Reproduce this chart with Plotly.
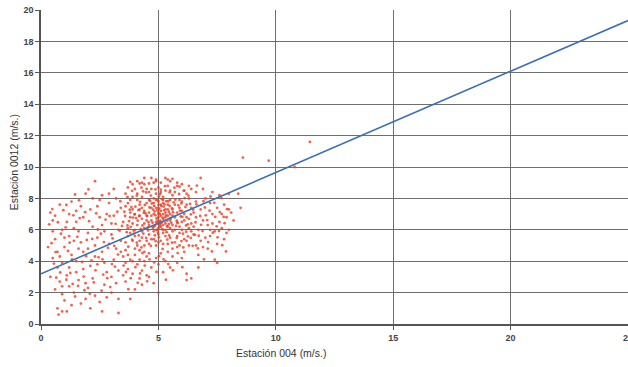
import plotly.graph_objects as go

# Paired wind speeds (m/s) at station 004 (x) and station 0012 (y)
wind_004 = [
    0.4, 0.5, 0.6, 0.3, 0.5, 0.7, 0.4, 0.8, 0.6, 0.9, 0.7, 0.9, 1.1, 0.75, 1.0, 1.2, 1.1, 0.9, 1.3, 1.0,
    1.2, 0.9, 1.1, 0.8, 1.3, 1.5, 1.4, 1.6, 1.7, 1.5, 1.8, 1.6, 1.4, 1.7, 1.9, 2.0, 2.2, 2.1, 2.3, 2.0,
    2.4, 2.2, 2.5, 2.1, 2.4, 2.6, 2.3, 1.9, 2.7, 2.8, 2.6, 2.9, 2.7, 3.0, 2.8, 2.9, 3.1, 2.5, 2.3, 2.6,
    3.3, 3.0, 3.2, 3.3, 3.1, 3.2, 3.4, 3.3, 3.1, 3.4, 3.2, 0.5, 0.7, 1.4, 1.8, 1.2, 0.6, 2.0, 1.8, 2.4,
    1.5, 0.9, 1.3, 2.1, 2.8, 1.7, 2.2, 2.9, 1.0, 1.6, 2.6, 2.3, 2.7, 3.0, 1.9, 1.2, 0.8, 2.5, 3.0, 1.5,
    3.6, 3.7, 3.8, 3.6, 3.9, 3.7, 4.0, 4.1, 4.0, 4.2, 4.1, 4.3, 4.4, 4.3, 4.5, 4.4, 4.6, 4.5, 4.7, 4.8,
    4.7, 4.9, 4.8, 4.9, 5.0, 5.1, 5.0, 5.0, 5.1, 5.2, 5.3, 5.2, 5.3, 5.2, 5.4, 5.5, 5.6, 5.5, 5.7, 5.6,
    5.8, 5.9, 5.8, 6.0, 5.9, 6.1, 6.2, 6.3, 6.2, 6.4, 6.3, 6.5, 6.4, 3.5, 3.8, 3.9, 4.0, 4.2, 4.2, 4.4,
    4.5, 4.6, 4.6, 4.7, 4.8, 4.8, 4.9, 4.9, 5.0, 5.0, 5.0, 5.1, 5.1, 5.1, 5.2, 5.2, 5.3, 5.3, 5.4, 5.4,
    5.5, 5.5, 5.6, 5.6, 5.7, 5.7, 5.8, 5.9, 6.0, 6.0, 6.1, 6.1, 6.2, 6.3, 6.4, 6.5, 3.6, 3.7, 3.8, 4.0,
    4.1, 4.3, 4.3, 4.4, 4.6, 4.7, 4.8, 4.9, 5.0, 5.1, 5.3, 5.4, 5.5, 5.6, 5.7, 5.8, 5.9, 6.0, 6.1, 6.2,
    4.5, 4.6, 4.7, 4.8, 4.9, 4.9, 5.0, 5.0, 5.0, 5.1, 5.1, 5.2, 5.2, 5.2, 5.3, 5.3, 5.4, 5.4, 5.5, 5.6,
    4.4, 4.3, 4.2, 4.1, 3.9, 3.8, 3.7, 3.6, 4.0, 4.2, 4.4, 3.9, 5.7, 5.8, 5.9, 6.0, 6.1, 6.3, 6.4, 6.5,
    6.6, 6.6, 5.0, 5.2, 4.6, 4.7, 5.5, 5.3, 4.1, 3.9, 4.8, 5.8, 4.5, 4.3,
    6.7, 6.8, 6.7, 6.9, 6.8, 7.0, 6.9, 7.1, 7.2, 7.1, 7.3, 7.2, 7.4, 7.5, 7.4, 7.6, 7.5, 7.6, 7.8, 7.7,
    7.9, 7.8, 8.0, 8.1, 7.0, 6.9, 7.3, 7.7, 7.9, 6.6, 7.3, 6.8, 7.5, 6.7, 8.0, 8.4, 8.5, 8.0, 7.2, 6.6,
    3.5, 3.6, 3.7, 3.8, 3.9, 4.0, 4.1, 4.2, 4.3, 4.4, 4.5, 4.6, 4.7, 4.8, 4.9, 5.0, 5.1, 5.2, 5.3, 5.4,
    5.5, 5.6, 5.8, 6.0, 6.2, 6.4, 6.2, 3.6, 3.8, 4.0, 3.4, 3.7, 3.9, 4.2, 4.5, 3.5, 4.3, 3.3, 5.0, 4.6,
    8.6, 9.7, 10.8, 11.45,
    3.45, 3.55, 3.65, 3.75, 3.85, 3.95, 4.05, 4.15, 4.25, 4.35,
    4.45, 4.55, 4.65, 4.75, 4.85, 4.95, 5.05, 5.15, 5.25, 5.35,
    5.45, 5.55, 5.65, 5.75, 5.85, 5.95, 6.05, 6.15, 6.25, 6.35,
    4.92, 5.04, 4.98, 5.08, 4.88, 5.12, 4.96, 5.02, 5.06, 4.94,
    4.62, 4.72, 4.52, 4.42, 4.32, 4.22, 4.12, 4.02, 3.92, 3.82,
    5.22, 5.32, 5.42, 5.52, 5.62, 5.72, 5.82, 5.92, 6.02, 6.12,
    3.72, 3.88, 4.08, 4.28, 4.48, 4.68, 4.88, 5.18, 5.38, 5.58,
    5.78, 5.98, 6.18, 6.38, 6.58, 6.48, 6.28, 6.08, 5.88, 5.68,
    5.48, 5.28, 5.08, 4.88, 4.68, 4.48, 4.28, 4.08, 3.88, 3.68,
    3.58, 3.68, 3.78, 3.98, 4.18, 4.38, 4.58, 4.78, 4.98, 5.18,
    5.38, 5.58, 5.78, 5.98, 6.18, 6.38, 6.56, 6.46, 6.26, 6.06,
    4.76, 4.84, 5.16, 5.24, 5.36, 5.46, 4.56, 4.36, 4.16, 3.96,
    4.9, 5.4, 4.2, 3.8, 5.9, 6.3, 4.6, 5.1, 5.6, 4.4,
    5.02, 4.98, 5.06, 5.14, 4.86, 4.82, 5.26, 5.34, 5.44, 5.48,
    0.35, 0.45, 0.55, 0.65, 0.85, 0.95, 1.05, 1.15, 1.25, 1.35,
    1.45, 1.55, 1.65, 1.75, 1.85, 1.95, 2.05, 2.15, 2.25, 2.35,
    2.45, 2.55, 2.65, 2.75, 2.85, 2.95, 3.05, 3.15, 3.25, 3.35,
    0.48, 0.72, 1.08, 1.38, 1.62, 1.88, 2.18, 2.42, 2.68, 2.92,
    3.18, 3.28, 3.02, 2.82, 2.58, 2.32, 2.08, 1.82, 1.58, 1.32,
    1.08, 0.82, 0.62, 1.22, 1.92, 2.62, 3.12, 3.38, 2.02, 1.45,
    6.62, 6.72, 6.82, 6.92, 7.02, 7.12, 7.22, 7.32, 7.42, 7.52,
    7.62, 7.72, 7.82, 7.92, 6.68, 6.78, 6.88, 6.98, 7.08, 7.18,
    7.28, 7.38, 7.48, 7.58, 7.68, 7.78, 6.64, 6.94, 7.88, 8.2,
    3.62, 3.82, 4.02, 4.22, 4.42, 4.62, 4.82, 5.02, 5.22, 5.42,
    5.62, 5.82, 6.02, 4.12, 4.52, 3.72, 5.32, 4.92, 3.52, 4.32,
]

wind_0012 = [
    7.1, 6.6, 5.4, 4.9, 4.2, 3.6, 3.0, 2.7, 2.2, 1.9, 1.0, 0.8, 0.8, 0.6, 1.5, 2.4, 3.1, 3.9, 4.4, 4.9,
    5.6, 6.0, 6.5, 7.6, 7.8, 7.2, 6.1, 5.9, 5.2, 4.0, 3.5, 2.8, 2.0, 1.3, 1.6, 2.3, 2.9, 3.7, 4.3, 4.8,
    5.5, 6.2, 6.8, 7.3, 7.5, 8.2, 9.1, 8.3, 2.5, 3.3, 4.6, 5.1, 5.9, 6.4, 7.0, 7.7, 8.6, 1.4, 1.8, 0.8,
    0.7, 2.0, 2.6, 3.4, 4.1, 4.8, 5.3, 6.0, 6.9, 7.4, 8.0, 5.9, 4.6, 5.3, 6.8, 7.0, 6.9, 5.8, 4.6, 3.8,
    3.3, 2.4, 1.2, 1.0, 1.7, 7.5, 8.0, 8.3, 5.5, 4.8, 6.3, 5.0, 3.9, 3.0, 2.6, 3.6, 4.3, 7.9, 5.7, 6.5,
    5.2, 6.1, 6.8, 7.5, 8.1, 8.7, 5.6, 6.3, 7.0, 7.6, 8.3, 9.0, 5.0, 5.9, 6.6, 7.2, 7.9, 8.6, 5.4, 6.2,
    6.9, 7.4, 8.0, 9.2, 5.7, 6.4, 7.1, 7.8, 8.4, 5.1, 6.0, 6.7, 7.3, 7.9, 8.8, 5.5, 6.3, 7.0, 7.6, 8.2,
    4.9, 5.8, 6.5, 7.2, 7.9, 8.5, 5.3, 6.1, 6.8, 7.4, 8.0, 5.7, 6.4, 6.5, 5.8, 7.3, 6.0, 6.9, 5.3, 6.1,
    7.7, 6.3, 5.1, 7.4, 7.0, 5.9, 6.5, 8.3, 6.1, 6.8, 7.4, 5.3, 7.6, 6.9, 6.3, 8.1, 5.6, 6.8, 7.6, 6.2,
    7.9, 6.6, 5.9, 7.3, 6.8, 8.4, 7.1, 6.2, 6.0, 7.8, 6.6, 5.4, 7.6, 5.0, 8.6, 7.1, 4.7, 5.6, 7.9, 8.6,
    5.0, 7.4, 8.1, 8.9, 8.4, 9.3, 5.4, 5.0, 8.7, 9.0, 8.5, 5.1, 9.1, 4.8, 5.2, 8.8, 5.0, 8.9, 4.6, 8.3,
    6.9, 7.1, 6.6, 7.7, 6.0, 7.9, 6.5, 7.0, 7.6, 6.2, 7.2, 6.0, 7.0, 7.7, 6.4, 7.1, 6.9, 7.3, 6.1, 6.9,
    6.4, 6.7, 7.3, 7.9, 6.4, 7.1, 7.7, 8.3, 4.8, 4.7, 4.6, 5.3, 6.0, 5.6, 7.4, 6.5, 7.0, 6.7, 5.9, 6.2,
    7.8, 5.0, 5.2, 5.8, 5.7, 8.6, 8.5, 9.3, 9.1, 8.9, 9.0, 9.0, 5.3, 5.5,
    4.4, 5.3, 6.0, 6.6, 7.3, 8.0, 8.6, 4.8, 5.6, 6.3, 7.0, 7.7, 4.1, 5.1, 5.9, 6.5, 7.4, 8.2, 5.4, 6.1,
    6.8, 7.6, 6.0, 7.1, 5.5, 4.9, 6.4, 7.0, 5.8, 8.4, 8.4, 9.3, 3.9, 3.6, 8.3, 8.3, 7.4, 7.3, 6.0, 6.8,
    4.3, 3.9, 3.5, 4.1, 3.2, 4.4, 3.8, 2.9, 3.4, 4.0, 3.1, 4.5, 3.6, 2.6, 4.2, 3.8, 4.5, 3.3, 4.0, 4.6,
    3.6, 4.3, 3.9, 4.2, 3.2, 2.9, 2.8, 2.7, 1.6, 2.2, 4.6, 4.4, 4.0, 4.1, 4.3, 3.1, 2.5, 1.6, 2.0, 3.0,
    10.6, 10.4, 10.0, 11.6,
    6.25, 7.15, 5.85, 6.55, 7.45, 5.95, 6.75, 7.25, 6.05, 8.45,
    7.05, 6.15, 7.85, 6.45, 5.65, 7.25, 6.35, 7.95, 6.55, 5.85,
    7.15, 6.45, 7.75, 6.25, 7.55, 6.85, 5.75, 7.45, 6.35, 7.65,
    6.72, 7.32, 7.88, 6.58, 6.92, 7.52, 5.98, 8.12, 7.02, 6.38,
    7.42, 7.68, 6.88, 7.58, 6.28, 7.78, 6.58, 7.48, 6.78, 6.18,
    7.48, 6.92, 7.82, 6.72, 7.12, 7.92, 6.42, 7.22, 6.82, 8.02,
    4.92, 5.38, 5.18, 4.88, 5.48, 4.98, 5.28, 4.78, 5.38, 5.18,
    5.48, 5.28, 5.88, 5.48, 6.48, 7.28, 8.18, 8.48, 8.28, 8.68,
    8.38, 8.78, 8.28, 8.58, 8.18, 8.38, 8.68, 8.18, 8.48, 8.08,
    6.88, 6.28, 7.28, 6.98, 6.88, 7.08, 6.48, 7.28, 6.58, 6.78,
    6.58, 7.38, 6.58, 7.68, 6.28, 6.98, 5.68, 4.98, 5.58, 4.88,
    6.12, 7.16, 6.04, 7.24, 6.24, 5.64, 5.96, 5.76, 5.64, 5.76,
    9.1, 9.2, 8.95, 9.05, 8.75, 8.8, 8.95, 8.55, 9.25, 9.3,
    5.52, 5.82, 6.22, 6.46, 6.26, 7.52, 7.62, 7.82, 6.36, 7.52,
    6.35, 5.15, 3.85, 2.95, 5.75, 7.25, 6.15, 4.65, 3.25, 2.55,
    1.75, 5.55, 6.75, 3.95, 2.15, 5.35, 6.55, 4.05, 2.65, 7.05,
    4.25, 5.75, 3.15, 6.65, 4.85, 2.35, 5.45, 3.65, 7.15, 5.95,
    7.32, 6.48, 7.58, 6.92, 7.88, 7.12, 5.42, 6.02, 5.22, 6.88,
    6.38, 4.42, 3.82, 2.92, 2.12, 3.42, 1.92, 3.02, 2.42, 4.12,
    2.82, 3.28, 4.58, 5.18, 4.32, 4.12, 4.98, 7.82, 8.58, 8.25,
    7.62, 5.62, 6.32, 7.82, 6.92, 5.22, 8.12, 5.82, 6.82, 5.52,
    7.12, 5.02, 6.42, 7.32, 4.82, 6.88, 5.92, 7.42, 6.62, 7.22,
    4.62, 7.72, 6.22, 5.92, 8.02, 6.82, 8.82, 4.12, 4.62, 6.6,
    3.32, 2.92, 3.62, 3.22, 3.72, 4.12, 3.92, 4.32, 4.12, 3.82,
    3.42, 4.52, 3.62, 2.62, 2.72, 2.22, 2.82, 3.32, 3.72, 4.52,
]

# Least-squares trend line: intercept and slope
trend_intercept = 3.2
trend_slope = 0.645
trend_x = [0, 25]
trend_y = [trend_intercept + trend_slope * v for v in trend_x]

x_ticks = [0, 5, 10, 15, 20, 25]
y_ticks = [0, 2, 4, 6, 8, 10, 12, 14, 16, 18, 20]

fig = go.Figure()
fig.add_trace(go.Scatter(
    x=wind_004, y=wind_0012, mode="markers",
    marker=dict(size=2.8, color="rgba(232,62,36,0.8)", line=dict(width=0)),
    hoverinfo="skip", showlegend=False,
))
fig.add_trace(go.Scatter(
    x=trend_x, y=trend_y, mode="lines",
    line=dict(color="#3d6fb4", width=1.6),
    hoverinfo="skip", showlegend=False,
))

axis_font = dict(family="Liberation Sans, Arial, sans-serif", size=9, color="#444444", weight="bold")
fig.update_xaxes(
    range=[0, 25], tickvals=x_ticks, ticktext=[str(v) for v in x_ticks],
    showgrid=True, gridcolor="#6e6e6e", gridwidth=1.2,
    showline=True, linecolor="#555555", linewidth=1.5,
    ticks="outside", ticklen=4, tickcolor="#555555",
    tickfont=axis_font, zeroline=False, automargin=False,
    ticklabeloverflow="allow",
)
fig.update_yaxes(
    range=[0, 20], tickvals=y_ticks,
    showgrid=True, gridcolor="#6e6e6e", gridwidth=1.2,
    showline=True, linecolor="#555555", linewidth=1.5,
    ticks="outside", ticklen=4, tickcolor="#555555",
    tickfont=axis_font, zeroline=False, automargin=False,
    ticklabeloverflow="allow",
)

title_font = dict(family="Liberation Sans, Arial, sans-serif", size=10.5, color="#333333")
fig.update_layout(
    width=628, height=367,
    margin=dict(l=41, r=0, t=10, b=43),
    paper_bgcolor="white", plot_bgcolor="white",
    annotations=[
        dict(text="Estación 004 (m/s.)", xref="paper", yref="paper",
             x=0.409, y=-0.092, xanchor="center", yanchor="middle",
             showarrow=False, font=title_font),
        dict(text="Estación 0012 (m/s.)", xref="paper", yref="paper",
             x=-0.046, y=0.515, xanchor="center", yanchor="middle",
             textangle=-90, showarrow=False, font=title_font),
    ],
)

fig.write_html("out.html")
